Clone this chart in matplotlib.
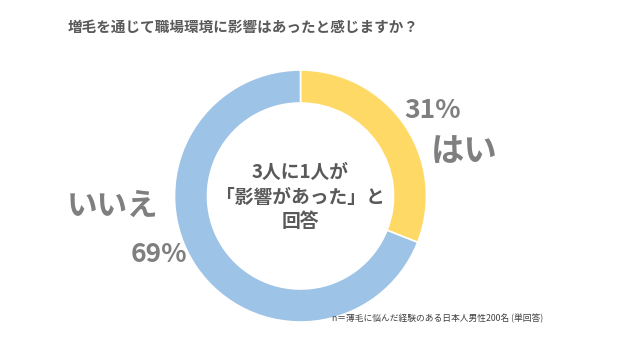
import matplotlib
matplotlib.use("Agg")
import matplotlib.pyplot as plt

plt.rcParams['font.family'] = ['Noto Sans CJK JP', 'DejaVu Sans']

# data
labels = ['はい', 'いいえ']
shares = [31, 69]
colors = ['#FFD966', '#9DC3E6']

title = '増毛を通じて職場環境に影響はあったと感じますか？'
center_text = '3人に1人が\n「影響があった」と\n回答'
note = 'n＝薄毛に悩んだ経験のある日本人男性200名 (単回答)'

grey = '#7F7F7F'
dark = '#595959'

fig = plt.figure(figsize=(6.4, 3.51), dpi=100)
ax = fig.add_axes([0, 0, 1, 1])

H = 351
cx, cy = 300.5, H - 196
ax.pie(shares, colors=colors, startangle=90, counterclock=False,
       center=(cx, cy), radius=126,
       wedgeprops=dict(width=33, edgecolor='white', linewidth=1.2))
ax.set_xlim(0, 640)
ax.set_ylim(0, H)
ax.set_aspect('equal')
ax.axis('off')

ax.text(243, H - 27, title, ha='center', va='center', fontsize=10.5,
        fontweight='bold', color=dark)

ax.text(cx, H - 197, center_text, ha='center', va='center', fontsize=13.5,
        fontweight='bold', color=dark, linespacing=1.35)

ax.text(433, H - 111, f'{shares[0]}%', ha='center', va='center',
        fontsize=19, fontweight='bold', color=grey)
ax.text(464, H - 152, labels[0], ha='center', va='center',
        fontsize=24, fontweight='bold', color=grey)

ax.text(112, H - 206, labels[1], ha='center', va='center',
        fontsize=22, fontweight='bold', color=grey)
ax.text(159, H - 255, f'{shares[1]}%', ha='center', va='center',
        fontsize=19, fontweight='bold', color=grey)

ax.text(332, H - 318, note, ha='left', va='center', fontsize=6.3,
        color='#404040')

fig.savefig('out.png', dpi=100)
